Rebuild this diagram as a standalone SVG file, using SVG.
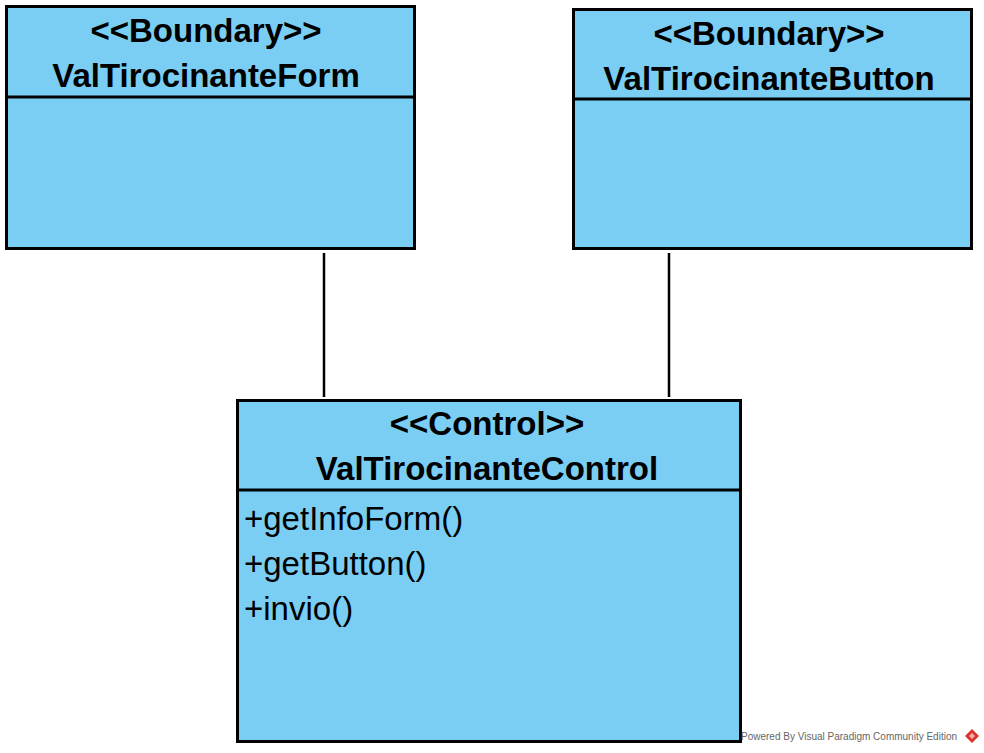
<svg xmlns="http://www.w3.org/2000/svg" width="984" height="753" viewBox="0 0 984 753">
<style>
.box{fill:#7ACEF4;stroke:#000;stroke-width:3}
.div{stroke:#000;stroke-width:3}
.st{font-family:"Liberation Sans",Arial,sans-serif;font-weight:bold;font-size:33px;text-anchor:middle;fill:#000}
.op{font-family:"Liberation Sans",Arial,sans-serif;font-size:33px;fill:#000}
.conn{stroke:#000;stroke-width:2.5;fill:none}
.foot{font-family:"Liberation Sans",Arial,sans-serif;font-size:10px;fill:#666}
</style>
<rect width="984" height="753" fill="#fff"/>
<g id="connectors">
<line class="conn" x1="324" y1="253" x2="324" y2="397"/>
<line class="conn" x1="669" y1="253" x2="669" y2="397"/>
</g>
<g id="ValTirocinanteForm">
<rect class="box" x="6.5" y="6.5" width="408" height="242"/>
<line class="div" x1="6.5" y1="97" x2="414.5" y2="97"/>
<text class="st" x="206" y="42">&lt;&lt;Boundary&gt;&gt;</text>
<text class="st" x="206" y="87">ValTirocinanteForm</text>
</g>
<g id="ValTirocinanteButton">
<rect class="box" x="573.5" y="9.5" width="398" height="239"/>
<line class="div" x1="573.5" y1="99" x2="971.5" y2="99"/>
<text class="st" x="769" y="45">&lt;&lt;Boundary&gt;&gt;</text>
<text class="st" x="769" y="90">ValTirocinanteButton</text>
</g>
<g id="ValTirocinanteControl">
<rect class="box" x="237.5" y="400.5" width="503" height="341"/>
<line class="div" x1="237.5" y1="490" x2="740.5" y2="490"/>
<text class="st" x="487" y="435">&lt;&lt;Control&gt;&gt;</text>
<text class="st" x="487" y="480">ValTirocinanteControl</text>
<text class="op" x="244" y="530">+getInfoForm()</text>
<text class="op" x="244" y="575">+getButton()</text>
<text class="op" x="244" y="620">+invio()</text>
</g>
<g id="footer">
<text class="foot" x="741" y="740">Powered By  Visual Paradigm Community Edition</text>
<path d="M972 729 L979 736 L972 743 L965 736 Z" fill="#d9342b"/>
<path d="M969 736 L972 733 L975 736 L972 739 Z" fill="#fff" opacity="0.6"/>
</g>
</svg>
